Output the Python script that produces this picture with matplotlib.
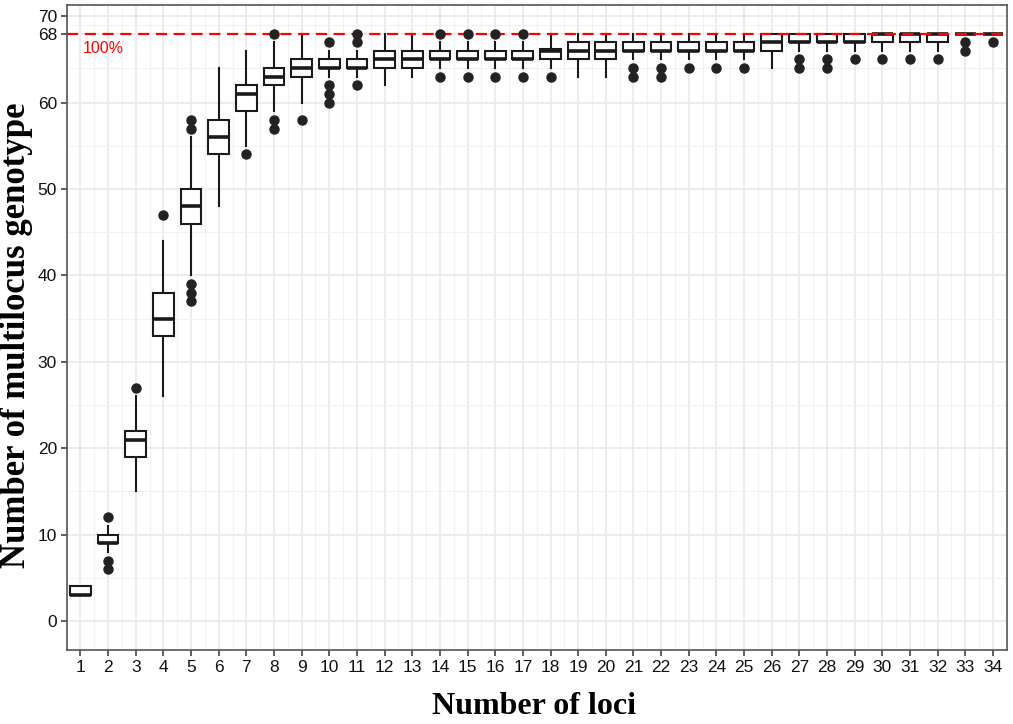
import matplotlib
matplotlib.use("Agg")
import matplotlib.pyplot as plt
import numpy as np

loci = list(range(1, 35))
q1 =   [3, 9, 19, 33, 46, 54, 59, 62, 63, 64, 64, 64, 64, 65, 65, 65, 65, 65, 65, 65, 66, 66, 66, 66, 66, 66, 67, 67, 67, 67, 67, 67, 68, 68]
med =  [3, 9, 21, 35, 48, 56, 61, 63, 64, 64, 64, 65, 65, 65, 65, 65, 65, 66, 66, 66, 66, 66, 66, 66, 66, 67, 67, 67, 67, 68, 68, 68, 68, 68]
q3 =   [4, 10, 22, 38, 50, 58, 62, 64, 65, 65, 65, 66, 66, 66, 66, 66, 66, 66.25, 67, 67, 67, 67, 67, 67, 67, 68, 68, 68, 68, 68, 68, 68, 68, 68]
wlo =  [3, 8, 15, 26, 40, 48, 55, 59, 60, 63, 63, 62, 63, 64, 64, 64, 64, 64, 63, 63, 65, 65, 65, 65, 65, 64, 66, 66, 66, 66, 66, 66, 68, 68]
whi =  [4, 11, 26, 44, 56, 64, 66, 67, 68, 66, 66, 68, 68, 67, 67, 67, 67, 68, 68, 68, 68, 68, 68, 68, 68, 68, 68, 68, 68, 68, 68, 68, 68, 68]
outliers = [
    [], [12, 7, 6], [27], [47], [37, 38, 39, 57, 58], [], [54], [57, 58, 68], [58],
    [60, 61, 62, 67], [62, 67, 68], [], [], [63, 68], [63, 68], [63, 68], [63, 68],
    [63], [], [], [63, 64], [63, 64], [64], [64], [64], [], [64, 65], [64, 65], [65],
    [65], [65], [65], [66, 67], [67],
]
ytick_vals = [0, 10, 20, 30, 40, 50, 60, 68, 70]
yminor_vals = [5, 15, 25, 35, 45, 55, 64, 69]
ref_value = 68
ref_label = "100%"

fig = plt.figure(figsize=(10.13, 7.24), dpi=100)
ax = fig.add_axes([0.0658, 0.1022, 0.9280, 0.8909])

stats = []
for i in range(len(loci)):
    stats.append(dict(med=med[i], q1=q1[i], q3=q3[i], whislo=wlo[i], whishi=whi[i], fliers=outliers[i]))

bp = ax.bxp(stats, positions=loci, widths=0.75, showcaps=False, patch_artist=True,
            boxprops=dict(facecolor="white", edgecolor="#1a1a1a", linewidth=1.5),
            medianprops=dict(color="#1a1a1a", linewidth=2.6, solid_capstyle="butt"),
            whiskerprops=dict(color="#1a1a1a", linewidth=1.5),
            flierprops=dict(marker="o", markerfacecolor="#222222", markeredgecolor="#222222", markersize=6.5))
for b in bp["boxes"]:
    b.set_zorder(3)
for m in bp["medians"]:
    m.set_zorder(4)
for w in bp["whiskers"]:
    w.set_zorder(2.5)
for f in bp["fliers"]:
    f.set_zorder(6)

ax.axhline(ref_value, color="#ff0000", linestyle=(0, (5, 3)), linewidth=1.6, zorder=5)
ax.text(1.07, 66.3, ref_label, color="#ff0000", fontsize=11.5, ha="left", va="center",
        family="Liberation Sans")

ax.set_xlim(0.52, 34.47)
ax.set_ylim(-3.36, 71.3)
ax.set_xticks(loci)
ax.set_xticklabels([str(v) for v in loci])
ax.set_xticks([v + 0.5 for v in range(0, 35)], minor=True)
ax.set_yticks(ytick_vals)
ax.set_yticklabels([str(v) for v in ytick_vals])
ax.set_yticks(yminor_vals, minor=True)

ax.grid(True, which="major", color="#ebebeb", linewidth=1.3, zorder=0)
ax.grid(True, which="minor", color="#f2f2f2", linewidth=0.8, zorder=0)
ax.set_axisbelow(True)

for s in ax.spines.values():
    s.set_color("#555555")
    s.set_linewidth(1.2)

ax.tick_params(axis="both", which="major", length=4, width=1.1, color="#333333",
               labelsize=12.5, labelcolor="#111111", pad=3)
ax.tick_params(axis="both", which="minor", length=0)
for lab in ax.get_xticklabels() + ax.get_yticklabels():
    lab.set_family("Liberation Sans")

fig.text(0.5276, 1 - 707 / 724, "Number of loci", fontsize=23, fontweight="bold",
         family="Liberation Serif", ha="center", va="center")
fig.text(17 / 1013, 1 - 335 / 724, "Number of multilocus genotype", fontsize=25, fontweight="bold",
         family="Liberation Serif", ha="center", va="center", rotation=90)

fig.savefig("out.png", dpi=100)
